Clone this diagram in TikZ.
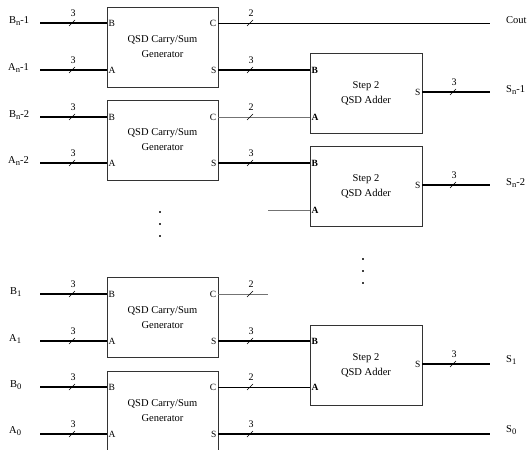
\documentclass[tikz,border=0pt]{standalone}
\usepackage{fontspec}
\setmainfont{Liberation Serif}
\newcommand\subl[2]{#1\raisebox{-0.4ex}{\fontsize{8.5}{9}\selectfont #2}}
\newcommand\busmark[3]{%
  \draw[line width=0.6pt] (#1-3,#2+3) -- (#1+3,#2-3);
  \node[font=\fontsize{10}{11}\selectfont, inner sep=0pt] at (#1+1,#2-10) {#3};}
\begin{document}
\begin{tikzpicture}[x=1pt,y=-1pt,
  gen/.style={draw=black!80, line width=0.8pt, minimum width=111pt, minimum height=80pt, inner sep=0pt, align=center, font=\fontsize{10.5}{15}\selectfont},
  add/.style={gen, minimum width=112pt},
  port/.style={font=\fontsize{9.5}{10}\selectfont, inner sep=1.5pt},
  lbl/.style={font=\fontsize{10.5}{11}\selectfont, anchor=west, inner sep=0pt},
  bus/.style={line width=1.5pt},
  wire/.style={line width=0.7pt},
  gwire/.style={line width=0.7pt, draw=black!55},
  qdot/.style={fill=black!75, minimum size=2pt, inner sep=0pt, shape=rectangle}
]
\useasboundingbox (0,0) rectangle (529,449);
\begin{scope}
\clip (0,0) rectangle (529,449);
% generator boxes
\node[gen] (g1) at (162.5,47) {QSD Carry/Sum\\Generator};
\node[gen] (g2) at (162.5,140) {QSD Carry/Sum\\Generator};
\node[gen] (g3) at (162.5,317.5) {QSD Carry/Sum\\Generator};
\node[gen] (g4) at (162.5,411) {QSD Carry/Sum\\Generator};
% adder boxes
\node[add] (a1) at (366,93) {Step 2\\QSD Adder};
\node[add] (a2) at (366,186.5) {Step 2\\QSD Adder};
\node[add] (a3) at (366,365) {Step 2\\QSD Adder};

% port coordinates on generators
\foreach \g/\yb/\ya in {g1/23/70, g2/117/163, g3/294/341, g4/387/434}{
  \coordinate (\g b) at (107,\yb);
  \coordinate (\g a) at (107,\ya);
  \coordinate (\g c) at (218,\yb);
  \coordinate (\g s) at (218,\ya);
  \coordinate (\g ib) at (40,\yb);
  \coordinate (\g ia) at (40,\ya);
  \node[port,anchor=west] at (\g b) {B};
  \node[port,anchor=west] at (\g a) {A};
  \node[port,anchor=east] at (\g c) {C};
  \node[port,anchor=east] at (\g s) {S};
  \draw[bus] (\g ib) -- (\g b);
  \draw[bus] (\g ia) -- (\g a);
  \busmark{72}{\yb}{3}
  \busmark{72}{\ya}{3}
}
% port coordinates on adders
\foreach \a/\yb/\ys/\ya in {a1/70/92/117, a2/163/185/210, a3/341/364/387}{
  \coordinate (\a b) at (310,\yb);
  \coordinate (\a a) at (310,\ya);
  \coordinate (\a s) at (422,\ys);
  \coordinate (\a o) at (490,\ys);
  \node[port,anchor=west,font=\fontsize{9.5}{10}\selectfont\bfseries] at (\a b) {B};
  \node[port,anchor=west,font=\fontsize{9.5}{10}\selectfont\bfseries] at (\a a) {A};
  \node[port,anchor=east] at (\a s) {S};
  \draw[bus] (\a s) -- (\a o);
  \busmark{453}{\ys}{3}
}

% input labels
\node[lbl] (lb1) at (9,21) {B\raisebox{-0.4ex}{\fontsize{8.5}{9}\selectfont n}-1};
\node[lbl] (la1) at (8,68) {A\raisebox{-0.4ex}{\fontsize{8.5}{9}\selectfont n}-1};
\node[lbl] (lb2) at (9,115) {B\raisebox{-0.4ex}{\fontsize{8.5}{9}\selectfont n}-2};
\node[lbl] (la2) at (8,161) {A\raisebox{-0.4ex}{\fontsize{8.5}{9}\selectfont n}-2};
\node[lbl] (lb3) at (10,292) {\subl{B}{1}};
\node[lbl] (la3) at (9,339) {\subl{A}{1}};
\node[lbl] (lb4) at (10,385) {\subl{B}{0}};
\node[lbl] (la4) at (9,431) {\subl{A}{0}};

% generator outputs
\coordinate (coutend) at (490,23);
\draw[wire] (g1c) -- (coutend);
\busmark{250}{23}{2}
\draw[bus] (g1s) -- (a1b);
\busmark{250}{70}{3}
\draw[gwire] (g2c) -- (a1a);
\busmark{250}{117}{2}
\draw[bus] (g2s) -- (a2b);
\busmark{250}{163}{3}
\coordinate (a2free) at (268,210);
\draw[gwire] (a2free) -- (a2a);
\coordinate (g3cend) at (268,294);
\draw[gwire] (g3c) -- (g3cend);
\busmark{250}{294}{2}
\draw[bus] (g3s) -- (a3b);
\busmark{250}{341}{3}
\draw[wire] (g4c) -- (a3a);
\busmark{250}{387}{2}
\coordinate (s0end) at (490,434);
\draw[bus] (g4s) -- (s0end);
\busmark{250}{434}{3}

% output labels
\node[lbl] (lcout) at (506,20) {Cout};
\node[lbl] (ls1) at (506,90) {S\raisebox{-0.4ex}{\fontsize{8.5}{9}\selectfont n}-1};
\node[lbl] (ls2) at (506,183) {S\raisebox{-0.4ex}{\fontsize{8.5}{9}\selectfont n}-2};
\node[lbl] (lsa) at (506,360) {\subl{S}{1}};
\node[lbl] (lsb) at (506,430) {\subl{S}{0}};

% dots
\node[qdot] (d1) at (160,212) {};
\node[qdot] (d2) at (160,224) {};
\node[qdot] (d3) at (160,236) {};
\node[qdot] (d4) at (363,259) {};
\node[qdot] (d5) at (363,271) {};
\node[qdot] (d6) at (363,283) {};
\end{scope}
\end{tikzpicture}
\end{document}
